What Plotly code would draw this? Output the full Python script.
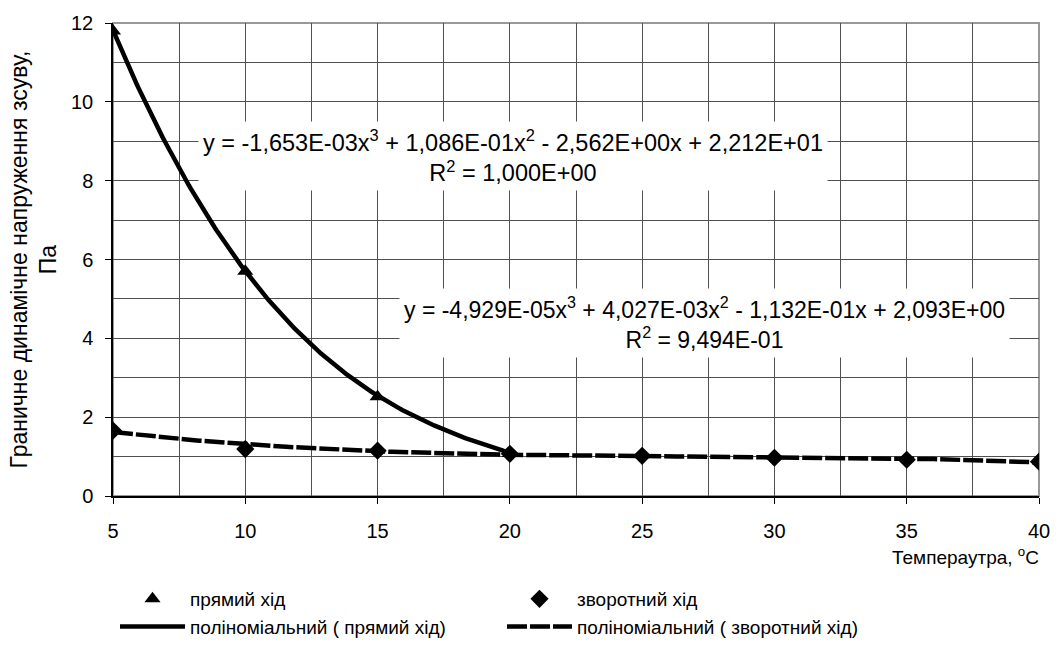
import numpy as np
import plotly.graph_objects as go

# ---- data ----
temp_fwd = [5, 10, 15, 20]
stress_fwd = [11.8, 5.7, 2.52, 1.08]

temp_rev = [5, 10, 15, 20, 25, 30, 35, 40]
stress_rev = [1.66, 1.19, 1.15, 1.07, 1.02, 0.97, 0.92, 0.87]

# trendline coefficients as printed on the chart (x^3, x^2, x, 1)
coef_fwd = [-1.653e-03, 1.086e-01, -2.562e+00, 2.212e+01]
coef_rev = [-4.929e-05, 4.027e-03, -1.132e-01, 2.093e+00]

eq_fwd = "y = -1,653E-03x<sup>3</sup> + 1,086E-01x<sup>2</sup> - 2,562E+00x + 2,212E+01<br>R<sup>2</sup> = 1,000E+00"
eq_rev = "y = -4,929E-05x<sup>3</sup> + 4,027E-03x<sup>2</sup> - 1,132E-01x + 2,093E+00<br>R<sup>2</sup> = 9,494E-01"

name_fwd = "прямий хід"
name_rev = "зворотний хід"
name_tr_fwd = "поліноміальний ( прямий хід)"
name_tr_rev = "поліноміальний ( зворотний хід)"

x_title = "Темпераутра, <sup>o</sup>C"
y_title = "Граничне динамічне напруження зсуву,<br>Па"

# trendline evaluation over the data range of each series
xf = np.linspace(min(temp_fwd), max(temp_fwd), 200)
yf = np.polyval(coef_fwd, xf)
xr = np.linspace(min(temp_rev), max(temp_rev), 300)
yr = np.polyval(coef_rev, xr)

FONT = "Liberation Sans, Arial, sans-serif"

fig = go.Figure()
fig.add_trace(go.Scatter(x=temp_fwd, y=stress_fwd, mode="markers", name=name_fwd,
                         marker=dict(symbol="triangle-up", size=14, color="black")))
fig.add_trace(go.Scatter(x=temp_rev, y=stress_rev, mode="markers", name=name_rev,
                         marker=dict(symbol="diamond", size=14, color="black")))
fig.add_trace(go.Scatter(x=xf, y=yf, mode="lines", name=name_tr_fwd,
                         line=dict(color="black", width=4.5)))
fig.add_trace(go.Scatter(x=xr, y=yr, mode="lines", name=name_tr_rev,
                         line=dict(color="black", width=4.5, dash="20px,3px")))

grid_c = "#505050"
fig.update_xaxes(range=[5, 40], tick0=5, dtick=5, showgrid=True, gridcolor=grid_c, gridwidth=1,
                 minor=dict(dtick=2.5, showgrid=True, gridcolor=grid_c, gridwidth=1),
                 showline=True, linecolor="black", linewidth=1.5,
                 ticks="outside", ticklen=6, tickcolor="black", ticklabelstandoff=10,
                 tickfont=dict(family=FONT, size=20, color="black"), zeroline=False)
fig.update_yaxes(range=[0, 12], tick0=0, dtick=2, showgrid=True, gridcolor=grid_c, gridwidth=1,
                 minor=dict(dtick=1, showgrid=True, gridcolor=grid_c, gridwidth=1),
                 showline=True, linecolor="black", linewidth=1.5,
                 ticks="outside", ticklen=6, tickcolor="black", ticklabelstandoff=8,
                 tickfont=dict(family=FONT, size=20, color="black"), zeroline=False)

# plot border (top/right gray)
fig.add_shape(type="rect", xref="paper", yref="paper", x0=0, x1=1, y0=0, y1=1,
              line=dict(color="#999999", width=2), layer="below")

fig.add_annotation(x=20.1, y=8.62, text=eq_fwd, showarrow=False, bgcolor="white",
                   borderpad=4, font=dict(family=FONT, size=23.5, color="black"), align="center")
fig.add_annotation(x=27.35, y=4.38, text=eq_rev, showarrow=False, bgcolor="white",
                   borderpad=4, font=dict(family=FONT, size=23, color="black"), align="center")

fig.add_annotation(x=1, y=0, xref="paper", yref="paper", xanchor="right", yanchor="middle",
                   xshift=2, yshift=-60, text=x_title, showarrow=False,
                   font=dict(family=FONT, size=19, color="black"))
fig.add_annotation(x=0, y=0.5, xref="paper", yref="paper", xanchor="center", yanchor="middle",
                   xshift=-80, text=y_title, showarrow=False, textangle=-90,
                   font=dict(family=FONT, size=23, color="black"))

fig.update_layout(
    width=1062, height=648,
    margin=dict(l=113, r=15, t=19, b=152),
    plot_bgcolor="white", paper_bgcolor="white",
    showlegend=True,
    legend=dict(orientation="h", xref="container", yref="container",
                x=115 / 1062, y=1 - 580 / 648, xanchor="left", yanchor="top",
                entrywidth=307, entrywidthmode="pixels", itemwidth=65,
                font=dict(family=FONT, size=19, color="black"),
                bgcolor="rgba(0,0,0,0)", traceorder="normal"),
)

fig.write_html("out.html")
